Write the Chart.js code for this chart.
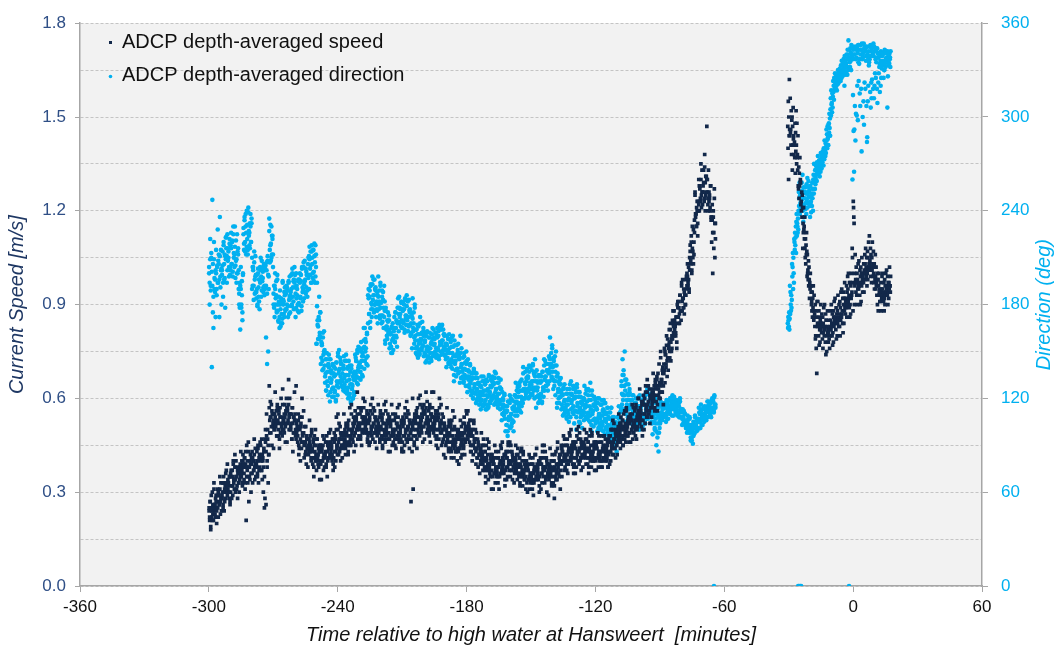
<!DOCTYPE html>
<html><head><meta charset="utf-8">
<script src="https://cdn.jsdelivr.net/npm/chart.js@4.4.0/dist/chart.umd.min.js"></script>
<style>html,body{margin:0;padding:0;background:#fff;}</style>
</head><body>
<canvas id="c" width="1059" height="648"></canvas>
<script>
// ---- Data (time in minutes relative to HW Hansweert) ----
// Each row: [bin start time, samples...]; samples are placed across the bin.
const binWidthA = 2;   // minutes, first survey segment
const binWidthB = 1;   // minutes, second survey segment

const speedRowsA = [
[-300,.24,.21,.27,.18,.25,.22,.30,.23],[-298,.26,.22,.29,.20,.27,.24,.33,.25],[-296,.28,.24,.31,.22,.29,.26,.35,.27],
[-294,.30,.26,.33,.24,.31,.28,.36,.29],[-292,.32,.28,.35,.26,.33,.30,.39,.31],[-290,.34,.30,.37,.28,.35,.32,.40,.33],
[-288,.35,.31,.38,.28,.36,.33,.42,.34],[-286,.37,.33,.40,.30,.38,.35,.43,.36],[-284,.38,.34,.41,.31,.39,.21,.45,.37],
[-282,.38,.34,.42,.30,.39,.35,.46,.27],[-280,.39,.35,.43,.33,.40,.37,.47,.38],[-278,.40,.36,.44,.33,.41,.38,.46,.39],
[-276,.40,.30,.44,.25,.42,.37,.47,.34],[-274,.42,.28,.50,.26,.55,.38,.47,.33],[-272,.54,.49,.58,.45,.55,.51,.64,.53],
[-270,.53,.48,.57,.44,.55,.50,.62,.52],[-268,.52,.48,.56,.44,.54,.49,.60,.51],[-266,.53,.49,.58,.46,.55,.50,.63,.52],
[-264,.55,.50,.60,.46,.57,.52,.66,.54],[-262,.52,.47,.57,.43,.54,.49,.62,.51],[-260,.50,.46,.55,.42,.53,.48,.64,.49],
[-258,.49,.44,.54,.40,.51,.46,.60,.48],[-256,.46,.42,.51,.39,.48,.44,.56,.45],[-254,.45,.41,.49,.38,.47,.43,.53,.44],
[-252,.43,.39,.47,.35,.45,.41,.50,.42],[-250,.42,.38,.45,.34,.43,.40,.47,.41],[-248,.42,.38,.45,.34,.44,.40,.48,.41],
[-246,.43,.39,.46,.35,.45,.41,.49,.42],[-244,.44,.40,.47,.37,.46,.42,.50,.43],[-242,.45,.41,.49,.38,.47,.43,.54,.44],
[-240,.47,.43,.51,.40,.49,.45,.55,.46],[-238,.47,.44,.51,.41,.49,.45,.55,.46],[-236,.48,.45,.52,.42,.50,.46,.57,.47],
[-234,.50,.46,.54,.43,.52,.48,.58,.49],[-232,.52,.48,.56,.45,.54,.50,.62,.51],[-230,.52,.48,.56,.45,.54,.50,.60,.51],
[-228,.52,.49,.56,.46,.54,.50,.59,.51],[-226,.51,.48,.55,.45,.53,.49,.58,.50],[-224,.52,.49,.56,.46,.54,.50,.60,.51],
[-222,.51,.47,.55,.44,.53,.49,.58,.50],[-220,.50,.47,.54,.44,.52,.48,.58,.49],[-218,.51,.47,.55,.43,.53,.49,.59,.50],
[-216,.50,.46,.54,.43,.52,.48,.58,.49],[-214,.50,.47,.54,.44,.52,.48,.57,.49],[-212,.49,.46,.53,.43,.51,.47,.58,.48],
[-210,.50,.46,.54,.43,.52,.48,.57,.49],[-208,.51,.47,.55,.44,.53,.49,.59,.50],[-206,.50,.46,.54,.27,.52,.43,.60,.31],
[-204,.52,.48,.56,.44,.54,.50,.60,.51],[-202,.53,.49,.57,.46,.55,.51,.61,.52],[-200,.54,.50,.58,.47,.56,.52,.62,.53],
[-198,.53,.49,.57,.46,.55,.51,.62,.52],[-196,.52,.48,.56,.45,.54,.50,.62,.51],[-194,.52,.48,.56,.44,.54,.50,.60,.51],
[-192,.50,.46,.54,.42,.52,.48,.58,.49],[-190,.48,.44,.52,.41,.50,.46,.57,.47],[-188,.48,.44,.52,.41,.50,.46,.56,.47],
[-186,.46,.43,.50,.40,.48,.44,.54,.45],[-184,.46,.42,.50,.39,.48,.44,.53,.45],[-182,.49,.45,.52,.42,.50,.47,.56,.48],
[-180,.50,.46,.53,.43,.51,.48,.56,.49],[-178,.47,.43,.50,.40,.48,.45,.53,.46],[-176,.44,.41,.47,.38,.45,.42,.50,.43],
[-174,.42,.39,.45,.36,.43,.40,.49,.41],[-172,.40,.37,.43,.33,.41,.38,.47,.39],[-170,.39,.35,.42,.31,.40,.37,.46,.38],
[-168,.38,.35,.41,.31,.39,.36,.45,.37],[-166,.38,.35,.41,.31,.39,.36,.45,.37],[-164,.39,.36,.42,.32,.40,.37,.46,.38],
[-162,.40,.37,.43,.34,.41,.38,.46,.39],[-160,.40,.37,.43,.34,.41,.38,.46,.39],[-158,.39,.36,.42,.33,.40,.37,.45,.38],
[-156,.38,.35,.41,.32,.39,.36,.44,.37],[-154,.37,.34,.40,.31,.38,.35,.43,.36],[-152,.36,.33,.39,.30,.37,.34,.42,.35],
[-150,.36,.33,.39,.29,.37,.34,.42,.35],[-148,.37,.34,.40,.30,.38,.35,.44,.36],[-146,.38,.35,.41,.31,.39,.36,.45,.37],
[-144,.38,.34,.41,.30,.39,.36,.45,.37],[-142,.37,.33,.40,.29,.38,.35,.44,.36],[-140,.37,.33,.40,.28,.38,.35,.43,.36],
[-138,.39,.35,.42,.31,.40,.37,.46,.38],[-136,.42,.38,.45,.35,.43,.40,.48,.41],[-134,.42,.39,.45,.36,.43,.40,.49,.41],
[-132,.43,.39,.46,.36,.44,.41,.50,.42],[-130,.43,.39,.46,.36,.44,.41,.50,.42],[-128,.44,.40,.47,.37,.45,.42,.51,.43],
[-126,.44,.41,.47,.38,.45,.42,.50,.43],[-124,.43,.39,.46,.36,.44,.41,.50,.42],[-122,.43,.40,.46,.37,.44,.41,.49,.42],
[-120,.43,.40,.46,.37,.44,.41,.49,.42],[-118,.43,.40,.46,.38,.44,.41,.48,.42],[-116,.43,.40,.45,.38,.44,.41,.47,.42],
[-114,.45,.42,.48,.39,.46,.43,.50,.44],[-112,.47,.44,.50,.41,.48,.45,.53,.46],[-110,.49,.46,.52,.42,.50,.47,.55,.48],
[-108,.50,.47,.53,.45,.51,.48,.56,.49],[-106,.51,.48,.54,.46,.52,.49,.57,.50],[-104,.52,.49,.55,.46,.53,.50,.58,.51],
[-102,.53,.50,.57,.47,.54,.51,.60,.52],[-100,.55,.51,.59,.48,.56,.53,.63,.54],[-98,.57,.53,.61,.50,.58,.55,.64,.56],
[-96,.59,.55,.63,.52,.60,.57,.66,.58],[-94,.61,.57,.65,.54,.62,.59,.68,.60],[-92,.63,.59,.67,.56,.64,.61,.71,.62],
[-90,.66,.62,.70,.58,.68,.64,.75,.65],[-88,.73,.69,.76,.65,.74,.71,.80,.72],[-86,.78,.75,.82,.72,.79,.76,.85,.77],
[-84,.83,.80,.86,.76,.84,.81,.88,.82],[-82,.88,.86,.91,.84,.89,.87,.93,.88],[-80,.92,.89,.95,.87,.93,.90,.97,.91],
[-78,.98,.95,1.01,.93,.99,.96,1.03,.97],[-76,1.07,1.03,1.10,1.00,1.08,1.05,1.14,1.06],[-74,1.19,1.15,1.23,1.12,1.20,1.17,1.26,1.18],
[-72,1.26,1.22,1.30,1.20,1.28,1.24,1.35,1.25],[-70,1.29,1.24,1.34,1.20,1.31,1.26,1.47,1.28],[-68,1.24,1.20,1.28,1.17,1.26,1.22,1.33,1.23],
[-66,1.16,1.10,1.22,1.00,1.18,1.13,1.27,1.05]
];

// second pass of readings over the same bins (the dense core of the speed band)
const speedRowsA2 = [
[-300,.25,.22,.27,.19,.29,.24,.21,.26],[-298,.27,.24,.29,.21,.31,.26,.23,.28],[-296,.29,.26,.31,.23,.33,.28,.25,.30],
[-294,.31,.28,.33,.25,.35,.30,.27,.32],[-292,.33,.30,.35,.27,.37,.32,.29,.34],[-290,.35,.32,.37,.29,.39,.34,.31,.36],
[-288,.36,.33,.38,.30,.40,.35,.32,.37],[-286,.38,.35,.40,.32,.42,.37,.34,.39],[-284,.39,.36,.41,.33,.43,.38,.35,.40],
[-282,.39,.36,.41,.33,.43,.38,.35,.40],[-280,.40,.37,.42,.34,.44,.39,.36,.41],[-278,.41,.38,.43,.35,.45,.40,.37,.42],
[-276,.41,.38,.43,.35,.45,.40,.37,.42],[-274,.46,.43,.48,.40,.50,.45,.42,.47],[-272,.55,.52,.57,.49,.59,.54,.51,.56],
[-270,.54,.51,.56,.48,.58,.53,.50,.55],[-268,.53,.50,.55,.47,.57,.52,.49,.54],[-266,.54,.51,.56,.48,.58,.53,.50,.55],
[-264,.56,.53,.58,.50,.60,.55,.52,.57],[-262,.53,.50,.55,.47,.57,.52,.49,.54],[-260,.51,.48,.53,.45,.55,.50,.47,.52],
[-258,.50,.47,.52,.44,.54,.49,.46,.51],[-256,.47,.44,.49,.41,.51,.46,.43,.48],[-254,.46,.43,.48,.40,.50,.45,.42,.47],
[-252,.44,.41,.46,.38,.48,.43,.40,.45],[-250,.43,.40,.45,.37,.47,.42,.39,.44],[-248,.43,.40,.45,.37,.47,.42,.39,.44],
[-246,.44,.41,.46,.38,.48,.43,.40,.45],[-244,.45,.42,.47,.39,.49,.44,.41,.46],[-242,.46,.43,.48,.40,.50,.45,.42,.47],
[-240,.48,.45,.50,.42,.52,.47,.44,.49],[-238,.48,.45,.50,.42,.52,.47,.44,.49],[-236,.49,.46,.51,.43,.53,.48,.45,.50],
[-234,.51,.48,.53,.45,.55,.50,.47,.52],[-232,.53,.50,.55,.47,.57,.52,.49,.54],[-230,.53,.50,.55,.47,.57,.52,.49,.54],
[-228,.53,.50,.55,.47,.57,.52,.49,.54],[-226,.52,.49,.54,.46,.56,.51,.48,.53],[-224,.53,.50,.55,.47,.57,.52,.49,.54],
[-222,.52,.49,.54,.46,.56,.51,.48,.53],[-220,.51,.48,.53,.45,.55,.50,.47,.52],[-218,.52,.49,.54,.46,.56,.51,.48,.53],
[-216,.51,.48,.53,.45,.55,.50,.47,.52],[-214,.51,.48,.53,.45,.55,.50,.47,.52],[-212,.50,.47,.52,.44,.54,.49,.46,.51],
[-210,.51,.48,.53,.45,.55,.50,.47,.52],[-208,.52,.49,.54,.46,.56,.51,.48,.53],[-206,.51,.48,.53,.45,.55,.50,.47,.52],
[-204,.53,.50,.55,.47,.57,.52,.49,.54],[-202,.54,.51,.56,.48,.58,.53,.50,.55],[-200,.55,.52,.57,.49,.59,.54,.51,.56],
[-198,.54,.51,.56,.48,.58,.53,.50,.55],[-196,.53,.50,.55,.47,.57,.52,.49,.54],[-194,.53,.50,.55,.47,.57,.52,.49,.54],
[-192,.51,.48,.53,.45,.55,.50,.47,.52],[-190,.49,.46,.51,.43,.53,.48,.45,.50],[-188,.49,.46,.51,.43,.53,.48,.45,.50],
[-186,.47,.44,.49,.41,.51,.46,.43,.48],[-184,.47,.44,.49,.41,.51,.46,.43,.48],[-182,.50,.47,.52,.44,.54,.49,.46,.51],
[-180,.51,.48,.53,.45,.55,.50,.47,.52],[-178,.48,.45,.50,.42,.52,.47,.44,.49],[-176,.45,.42,.47,.39,.49,.44,.41,.46],
[-174,.43,.40,.45,.37,.47,.42,.39,.44],[-172,.41,.38,.43,.35,.45,.40,.37,.42],[-170,.40,.37,.42,.34,.44,.39,.36,.41],
[-168,.39,.36,.41,.33,.43,.38,.35,.40],[-166,.39,.36,.41,.33,.43,.38,.35,.40],[-164,.40,.37,.42,.34,.44,.39,.36,.41],
[-162,.41,.38,.43,.35,.45,.40,.37,.42],[-160,.41,.38,.43,.35,.45,.40,.37,.42],[-158,.40,.37,.42,.34,.44,.39,.36,.41],
[-156,.39,.36,.41,.33,.43,.38,.35,.40],[-154,.38,.35,.40,.32,.42,.37,.34,.39],[-152,.37,.34,.39,.31,.41,.36,.33,.38],
[-150,.37,.34,.39,.31,.41,.36,.33,.38],[-148,.38,.35,.40,.32,.42,.37,.34,.39],[-146,.39,.36,.41,.33,.43,.38,.35,.40],
[-144,.39,.36,.41,.33,.43,.38,.35,.40],[-142,.38,.35,.40,.32,.42,.37,.34,.39],[-140,.38,.35,.40,.32,.42,.37,.34,.39],
[-138,.40,.37,.42,.34,.44,.39,.36,.41],[-136,.43,.40,.45,.37,.47,.42,.39,.44],[-134,.43,.40,.45,.37,.47,.42,.39,.44],
[-132,.44,.41,.46,.38,.48,.43,.40,.45],[-130,.44,.41,.46,.38,.48,.43,.40,.45],[-128,.45,.42,.47,.39,.49,.44,.41,.46],
[-126,.45,.42,.47,.39,.49,.44,.41,.46],[-124,.44,.41,.46,.38,.48,.43,.40,.45],[-122,.44,.41,.46,.38,.48,.43,.40,.45],
[-120,.44,.41,.46,.38,.48,.43,.40,.45],[-118,.44,.41,.46,.38,.48,.43,.40,.45],[-116,.44,.41,.46,.38,.48,.43,.40,.45],
[-114,.46,.43,.48,.40,.50,.45,.42,.47],[-112,.48,.45,.50,.42,.52,.47,.44,.49],[-110,.50,.47,.52,.44,.54,.49,.46,.51],
[-108,.51,.48,.53,.45,.55,.50,.47,.52],[-106,.52,.49,.54,.46,.56,.51,.48,.53],[-104,.53,.50,.55,.47,.57,.52,.49,.54],
[-102,.54,.51,.56,.48,.58,.53,.50,.55],[-100,.56,.53,.58,.50,.60,.55,.52,.57],[-98,.58,.55,.60,.52,.62,.57,.54,.59],
[-96,.60,.57,.62,.54,.64,.59,.56,.61],[-94,.62,.59,.64,.56,.66,.61,.58,.63],[-92,.64,.61,.66,.58,.68,.63,.60,.65],
[-90,.68,.64,.71,.60,.73,.66,.62,.69],[-88,.74,.70,.77,.67,.79,.73,.69,.75],[-86,.79,.76,.82,.73,.84,.78,.75,.80],
[-84,.84,.81,.86,.78,.88,.83,.80,.85],[-82,.89,.86,.91,.84,.93,.88,.85,.90],[-80,.93,.90,.96,.88,.98,.92,.89,.94],
[-78,.99,.96,1.02,.94,1.05,.98,.95,1.00],[-76,1.09,1.04,1.12,1.01,1.15,1.07,1.03,1.10],[-74,1.20,1.16,1.23,1.13,1.25,1.19,1.15,1.21],
[-72,1.27,1.23,1.30,1.21,1.33,1.26,1.22,1.28],[-70,1.30,1.26,1.33,1.23,1.38,1.29,1.25,1.31],[-68,1.25,1.21,1.28,1.18,1.30,1.24,1.20,1.26],
[-66,1.17,1.13,1.20,1.08,1.24,1.16,1.11,1.18]
];

const speedRowsB = [
[-30.5,1.47,1.40,1.55,1.30,1.50,1.44,1.62,1.46],[-29.5,1.46,1.41,1.52,1.38,1.49,1.44,1.56,1.45],[-28.5,1.44,1.38,1.50,1.33,1.47,1.41,1.53,1.43],
[-27.5,1.42,1.37,1.48,1.32,1.45,1.39,1.52,1.41],[-26.5,1.38,1.33,1.44,1.28,1.41,1.35,1.48,1.37],[-25.5,1.30,1.27,1.34,1.24,1.32,1.28,1.37,1.29],
[-24.5,1.23,1.20,1.26,1.18,1.25,1.21,1.29,1.22],[-23.5,1.15,1.11,1.18,1.08,1.16,1.13,1.21,1.14],[-22.5,1.08,1.05,1.11,1.03,1.09,1.06,1.13,1.07],
[-21.5,1.01,.98,1.04,.96,1.02,.99,1.06,1.00],[-20.5,.96,.94,.98,.92,.97,.95,1.00,.96],[-19.5,.91,.88,.94,.86,.92,.89,.96,.90],
[-18.5,.87,.83,.90,.79,.88,.85,.93,.86],[-17.5,.84,.80,.88,.76,.86,.68,.91,.83],[-16.5,.84,.80,.88,.77,.86,.82,.91,.83],
[-15.5,.84,.81,.87,.78,.85,.82,.90,.83],[-14.5,.83,.79,.86,.76,.84,.81,.89,.82],[-13.5,.83,.78,.87,.74,.85,.80,.90,.82],
[-12.5,.82,.78,.85,.75,.83,.80,.88,.81],[-11.5,.82,.79,.85,.76,.83,.80,.88,.81],[-10.5,.84,.80,.87,.77,.85,.82,.90,.83],
[-9.5,.85,.81,.88,.78,.86,.83,.91,.84],[-8.5,.86,.82,.89,.79,.87,.84,.92,.85],[-7.5,.86,.83,.90,.80,.88,.84,.93,.85],
[-6.5,.87,.83,.91,.80,.89,.85,.94,.86],[-5.5,.88,.84,.92,.81,.90,.86,.95,.87],[-4.5,.90,.87,.94,.84,.92,.88,.97,.89],
[-3.5,.92,.89,.96,.86,.94,.90,.99,.91],[-2.5,.93,.89,.97,.86,.95,.91,1.00,.92],[-1.5,.94,.90,.97,.87,.96,.92,1.00,.93],
[-0.5,.97,.88,1.23,1.21,1.18,1.16,1.08,1.05],[0.5,.98,.94,1.02,.90,1.00,.96,1.06,.97],[1.5,.97,.93,1.00,.90,.98,.95,1.03,.96],
[2.5,.97,.93,1.01,.90,.99,.95,1.04,.96],[3.5,.98,.94,1.02,.91,1.00,.96,1.05,.97],[4.5,1.00,.97,1.03,.94,1.01,.98,1.06,.99],
[5.5,1.02,.99,1.05,.96,1.03,1.00,1.08,1.01],[6.5,1.03,1.00,1.07,.98,1.05,1.01,1.10,1.02],[7.5,1.04,1.01,1.08,.99,1.06,1.02,1.12,1.03],
[8.5,1.03,.99,1.07,.97,1.05,1.01,1.10,1.02],[9.5,1.00,.97,1.03,.95,1.02,.98,1.06,.99],[10.5,.97,.93,1.00,.90,.98,.95,1.02,.96],
[11.5,.95,.91,.98,.88,.96,.93,1.00,.94],[12.5,.94,.91,.97,.88,.95,.92,.99,.93],[13.5,.94,.91,.97,.88,.95,.92,1.00,.93],
[14.5,.95,.92,.98,.90,.96,.93,1.00,.94],[15.5,.96,.93,.99,.90,.97,.94,1.01,.95],[16.5,.96,.94,.99,.92,.97,.95,1.02,.96]
];

const dirRowsA = [
[-300,200,180,222,192,210,140,247,175],[-298,196,172,215,186,204,165,220,190],[-296,202,180,228,194,212,172,236,198],
[-294,205,185,220,196,212,178,223,202],[-292,210,198,222,204,216,194,225,208],[-290,212,202,226,206,220,198,230,210],
[-288,208,194,225,200,216,190,230,205],[-286,186,170,200,180,194,164,204,178],[-284,225,215,236,220,230,212,240,222],
[-282,226,216,238,220,232,212,242,224],[-280,198,188,210,192,204,183,214,196],[-278,190,180,200,185,196,177,204,188],
[-276,197,188,205,192,202,185,208,195],[-274,198,190,205,159,202,142,208,150],[-272,218,208,230,212,224,204,235,215],
[-270,186,176,196,180,192,172,200,184],[-268,176,169,182,172,180,166,184,174],[-266,182,172,191,177,187,168,194,180],
[-264,185,175,192,180,189,172,195,183],[-262,190,180,200,185,195,177,204,188],[-260,186,176,196,181,191,172,200,184],
[-258,190,180,200,185,195,176,204,188],[-256,195,188,203,191,199,185,207,193],[-254,205,194,214,199,210,190,217,203],
[-252,206,197,215,201,211,194,218,204],[-250,166,158,185,162,175,155,194,170],[-248,150,141,159,146,155,138,162,148],
[-246,136,125,145,131,141,122,148,134],[-244,132,121,142,127,137,118,145,130],[-242,130,121,140,125,135,118,143,128],
[-240,138,131,146,134,142,128,149,136],[-238,135,127,144,131,139,125,147,133],[-236,131,123,139,127,135,121,141,129],
[-234,128,120,136,124,132,118,139,126],[-232,140,133,148,136,144,130,151,138],[-230,143,137,150,140,147,134,152,142],
[-228,152,142,162,147,157,139,165,150],[-226,180,168,190,174,185,165,192,177],[-224,186,175,196,180,191,172,198,183],
[-222,182,171,194,177,188,168,198,180],[-220,178,168,189,173,183,165,192,176],[-218,166,158,175,162,170,155,178,164],
[-216,158,151,164,155,161,149,166,157],[-214,165,156,175,160,170,153,178,163],[-212,174,166,182,170,178,163,185,172],
[-210,173,165,181,169,177,162,184,171],[-208,172,163,183,167,177,160,186,170],[-206,168,155,180,161,174,152,184,165],
[-204,157,149,164,153,161,146,166,155],[-202,158,151,169,154,163,148,172,156],[-200,153,146,160,149,157,143,162,151],
[-198,152,146,159,149,155,144,161,150],[-196,155,149,162,152,158,147,164,154],[-194,156,148,165,152,160,145,167,154],
[-192,157,150,164,153,161,148,166,155],[-190,151,143,158,147,155,140,160,149],[-188,149,142,157,145,153,139,160,147],
[-186,144,134,154,139,149,131,157,142],[-184,142,133,155,137,147,130,160,140],[-182,139,131,147,135,143,128,150,137],
[-180,134,127,142,130,138,124,145,132],[-178,129,122,136,125,133,120,138,127],[-176,126,119,133,122,130,116,136,124],
[-174,124,116,131,120,128,113,134,122],[-172,122,116,129,119,125,113,131,121],[-170,124,117,132,120,128,114,135,122],
[-168,126,119,134,122,130,116,137,124],[-166,123,116,130,119,127,113,132,121],[-164,116,109,122,112,119,106,124,114],
[-162,108,99,115,103,112,96,118,106],[-160,110,102,119,106,114,99,122,108],[-158,118,112,127,115,122,109,130,117],
[-156,121,114,130,117,125,111,132,119],[-154,126,120,137,123,131,117,140,125],[-152,130,123,139,126,134,120,141,128],
[-150,131,123,142,127,136,120,145,129],[-148,127,117,135,122,131,114,138,125],[-146,127,120,135,123,131,117,137,125],
[-144,134,128,142,131,138,125,145,132],[-142,142,134,154,138,147,131,159,140],[-140,137,126,146,131,141,122,150,134],
[-138,126,117,132,121,129,114,134,124],[-136,119,112,125,116,122,109,127,118],[-134,116,108,123,112,119,105,126,114],
[-132,119,111,128,115,123,108,131,117],[-130,117,104,126,112,121,100,129,115],[-128,114,104,121,110,117,101,124,112],
[-126,116,108,125,112,120,106,128,114],[-124,115,108,126,111,119,105,130,113],[-122,112,102,121,107,116,99,125,110],
[-120,110,102,117,106,113,99,120,108],[-118,109,102,116,105,112,99,119,107],[-116,107,100,114,103,110,97,117,105],
[-114,104,96,111,100,107,93,114,102],[-112,98,89,105,94,101,86,108,96],[-110,104,96,112,100,108,93,115,102],
[-108,128,116,145,122,135,113,150,125],[-106,119,108,129,113,124,105,132,116],[-104,112,106,119,109,115,104,122,111],
[-102,110,103,117,106,113,101,120,108],[-100,111,103,119,107,115,100,122,109],[-98,113,106,120,110,116,104,122,112],
[-96,116,110,123,113,119,108,126,115],[-94,110,100,118,105,114,97,122,108],[-92,104,90,113,98,109,86,116,101],
[-90,111,106,116,108,114,104,118,110],[-88,112,107,117,109,115,105,119,111],[-86,115,111,120,113,117,109,122,114],
[-84,115,111,119,113,117,109,121,114],[-82,113,109,118,111,115,108,120,112],[-80,108,104,112,106,110,103,113,107],
[-78,103,99,107,101,105,98,109,102],[-76,98,93,103,95,100,91,105,97],[-74,103,99,107,101,105,98,109,102],
[-72,108,103,114,105,111,101,116,107],[-70,110,107,113,108,112,106,114,109],[-68,113,109,117,111,115,108,118,112],
[-66,116,113,120,114,118,112,122,115]
];

// second pass of readings over the same bins (the dense core of the direction band)
const dirRowsA2 = [
[-300,204,194,209,189,213,201,192,206],[-298,200,190,205,185,209,197,188,202],[-296,206,196,211,191,215,203,194,208],
[-294,209,199,214,194,218,206,197,211],[-292,214,204,219,199,223,211,202,216],[-290,216,206,221,201,225,213,204,218],
[-288,212,202,217,197,221,209,200,214],[-286,190,180,195,175,199,187,178,192],[-284,229,219,234,214,238,226,217,231],
[-282,230,220,235,215,239,227,218,232],[-280,202,192,207,187,211,199,190,204],[-278,194,184,199,179,203,191,182,196],
[-276,201,191,206,186,210,198,189,203],[-274,202,192,207,187,211,199,190,204],[-272,222,212,227,207,231,219,210,224],
[-270,190,180,195,175,199,187,178,192],[-268,180,170,185,165,189,177,168,182],[-266,186,176,191,171,195,183,174,188],
[-264,189,179,194,174,198,186,177,191],[-262,194,184,199,179,203,191,182,196],[-260,190,180,195,175,199,187,178,192],
[-258,194,184,199,179,203,191,182,196],[-256,199,189,204,184,208,196,187,201],[-254,209,199,214,194,218,206,197,211],
[-252,210,200,215,195,219,207,198,212],[-250,170,160,175,155,179,167,158,172],[-248,154,144,159,139,163,151,142,156],
[-246,140,130,145,125,149,137,128,142],[-244,136,126,141,121,145,133,124,138],[-242,134,124,139,119,143,131,122,136],
[-240,142,132,147,127,151,139,130,144],[-238,139,129,144,124,148,136,127,141],[-236,135,125,140,120,144,132,123,137],
[-234,132,122,137,117,141,129,120,134],[-232,144,134,149,129,153,141,132,146],[-230,147,137,152,132,156,144,135,149],
[-228,156,146,161,141,165,153,144,158],[-226,184,174,189,169,193,181,172,186],[-224,189,181,193,177,196,186,180,190],
[-222,185,177,189,173,192,182,176,186],[-220,181,173,185,169,188,178,172,182],[-218,169,161,173,157,176,166,160,170],
[-216,161,153,165,149,168,158,152,162],[-214,168,160,172,156,175,165,159,169],[-212,177,169,181,165,184,174,168,178],
[-210,176,168,180,164,183,173,167,177],[-208,175,167,179,163,182,172,166,176],[-206,171,163,175,159,178,168,162,172],
[-204,160,152,164,148,167,157,151,161],[-202,161,153,165,149,168,158,152,162],[-200,156,148,160,144,163,153,147,157],
[-198,155,147,159,143,162,152,146,156],[-196,158,150,162,146,165,155,149,159],[-194,159,151,163,147,166,156,150,160],
[-192,160,152,164,148,167,157,151,161],[-190,154,146,158,142,161,151,145,155],[-188,152,144,156,140,159,149,143,153],
[-186,147,139,151,135,154,144,138,148],[-184,145,137,149,133,152,142,136,146],[-182,142,134,146,130,149,139,133,143],
[-180,137,129,141,125,144,134,128,138],[-178,132,124,136,120,139,129,123,133],[-176,129,121,133,117,136,126,120,130],
[-174,127,119,131,115,134,124,118,128],[-172,125,117,129,113,132,122,116,126],[-170,127,119,131,115,134,124,118,128],
[-168,129,121,133,117,136,126,120,130],[-166,126,118,130,114,133,123,117,127],[-164,119,111,123,107,126,116,110,120],
[-162,111,103,115,99,118,108,102,112],[-160,113,105,117,101,120,110,104,114],[-158,121,113,125,109,128,118,112,122],
[-156,124,116,128,112,131,121,115,125],[-154,129,121,133,117,136,126,120,130],[-152,133,125,137,121,140,130,124,134],
[-150,134,126,138,122,141,131,125,135],[-148,130,122,134,118,137,127,121,131],[-146,130,122,134,118,137,127,121,131],
[-144,137,129,141,125,144,134,128,138],[-142,145,137,149,133,152,142,136,146],[-140,140,132,144,128,147,137,131,141],
[-138,129,121,133,117,136,126,120,130],[-136,122,114,126,110,129,119,113,123],[-134,119,111,123,107,126,116,110,120],
[-132,122,114,126,110,129,119,113,123],[-130,120,112,124,108,127,117,111,121],[-128,117,109,121,105,124,114,108,118],
[-126,119,111,123,107,126,116,110,120],[-124,118,110,122,106,125,115,109,119],[-122,115,107,119,103,122,112,106,116],
[-120,113,105,117,101,120,110,104,114],[-118,112,104,116,100,119,109,103,113],[-116,110,102,114,98,117,107,101,111],
[-114,107,99,111,95,114,104,98,108],[-112,101,93,105,89,108,98,92,102],[-110,107,99,111,95,114,104,98,108],
[-108,131,123,135,119,138,128,122,132],[-106,122,114,126,110,129,119,113,123],[-104,115,107,119,103,122,112,106,116],
[-102,113,105,117,101,120,110,104,114],[-100,114,106,118,102,121,111,105,115],[-98,116,108,120,104,123,113,107,117],
[-96,119,111,123,107,126,116,110,120],[-94,113,105,117,101,120,110,104,114],[-92,107,99,111,95,114,104,98,108],
[-90,113,108,115,106,116,111,109,114],[-88,114,109,116,107,117,112,110,115],[-86,117,112,119,110,120,115,113,118],
[-84,117,112,119,110,120,115,113,118],[-82,115,110,117,108,118,113,111,116],[-80,110,105,112,103,113,108,106,111],
[-78,105,100,107,98,108,103,101,106],[-76,100,95,102,93,103,98,96,101],[-74,105,100,107,98,108,103,101,106],
[-72,110,105,112,103,113,108,106,111],[-70,112,107,114,105,115,110,108,113],[-68,115,110,117,108,118,113,111,116],
[-66,118,113,120,111,121,116,114,119]
];

const dirRowsB = [
[-30.5,168,165,172,170,166,175,164,171],[-29.5,180,176,186,178,183,192,174,188],[-28.5,200,194,206,198,204,213,190,210],
[-27.5,220,215,226,218,223,230,213,222],[-26.5,230,226,235,228,233,238,224,232],[-25.5,245,240,252,243,248,258,238,250],
[-24.5,250,244,258,247,253,263,241,249],[-23.5,244,236,252,240,248,233,255,242],[-22.5,248,241,255,245,251,238,257,247],
[-21.5,252,245,259,249,255,242,261,251],[-20.5,246,239,253,243,249,236,256,245],[-19.5,251,243,258,248,254,240,260,250],
[-18.5,260,254,266,257,263,251,270,259],[-17.5,265,261,269,263,267,259,271,264],[-16.5,268,264,272,266,270,262,275,267],
[-15.5,271,267,275,269,273,265,277,270],[-14.5,274,271,278,273,276,269,280,275],[-13.5,279,275,283,277,281,273,285,278],
[-12.5,287,282,292,285,289,280,294,286],[-11.5,296,290,302,293,299,288,305,295],[-10.5,309,303,315,306,312,301,317,308],
[-9.5,318,313,323,316,320,311,325,317],[-8.5,322,318,326,320,324,317,328,321],[-7.5,325,322,329,324,327,321,330,325],
[-6.5,327,324,331,326,329,323,333,328],[-5.5,330,326,334,328,332,325,336,329],[-4.5,332,327,337,330,335,320,339,333],
[-3.5,334,329,340,332,337,327,343,335],[-2.5,337,332,343,335,340,330,349,338],[-1.5,338,332,344,336,341,330,346,339],
[-0.5,337,314,343,291,340,265,345,260],[0.5,337,302,343,292,340,307,345,285],[1.5,338,301,344,320,341,298,346,335],
[2.5,337,315,343,307,340,323,346,334],[3.5,340,300,346,318,343,278,347,337],[4.5,341,310,347,295,344,322,345,338],
[5.5,339,307,345,284,342,318,344,336],[6.5,335,287,340,310,338,320,342,333],[7.5,339,316,346,306,342,322,345,337],
[8.5,341,318,347,312,344,324,346,339],[9.5,339,312,345,320,342,328,344,337],[10.5,338,318,344,309,341,325,343,335],
[11.5,334,316,341,322,338,328,340,332],[12.5,336,320,342,325,339,331,341,334],[13.5,336,325,341,330,339,333,340,335],
[14.5,338,330,343,334,341,332,342,337],[15.5,337,306,342,326,340,333,341,336],[16.5,338,332,342,335,340,334,341,337]
];

// isolated zero-direction readings on the time axis
const dirZeroTimes = [-64.8, -25.6, -25.2, -24.6, -24.2, -1.9];
const dirZeroValues = [0, 0, 0, 0, 0, 0];

const xTickValues = [-360, -300, -240, -180, -120, -60, 0, 60];
const speedTickLabels = ['0.0', '0.3', '0.6', '0.9', '1.2', '1.5', '1.8'];
const dirTickLabels = ['0', '60', '120', '180', '240', '300', '360'];

const seriesNames = ['ADCP depth-averaged speed', 'ADCP depth-averaged direction'];

// ---- build point lists: samples of a row fill its time bin (slot order varies per row) ----
function expand(rows, width, shift) {
  const pts = [];
  rows.forEach((r, ri) => {
    const n = r.length - 1;
    for (let k = 1; k <= n; k++) {
      const slot = (k - 1 + ri * shift) % n;
      pts.push({x: r[0] + (slot + 0.5) * width / n, y: r[k]});
    }
  });
  return pts;
}
const speedPts = expand(speedRowsA, binWidthA, 3)
  .concat(expand(speedRowsA2, binWidthA, 5))
  .concat(expand(speedRowsB, binWidthB, 3));
const dirPts = expand(dirRowsA, binWidthA, 3)
  .concat(expand(dirRowsA2, binWidthA, 5))
  .concat(expand(dirRowsB, binWidthB, 3))
  .concat(dirZeroTimes.map((t, i) => ({x: t, y: dirZeroValues[i]})));

const NAVY = '#12284a';
const CYAN = '#00b0f0';
const FONT = "'Liberation Sans', Arial, sans-serif";

const bgPlugin = {
  id: 'bg',
  beforeDraw(chart) {
    const {ctx, chartArea: a} = chart;
    ctx.save();
    ctx.fillStyle = '#f2f2f2';
    ctx.fillRect(a.left, a.top, a.right - a.left, a.bottom - a.top);
    ctx.restore();
  }
};

const decorPlugin = {
  id: 'decor',
  afterDraw(chart) {
    const {ctx, chartArea: a} = chart;
    ctx.save();
    // legend inside plot area
    ctx.font = '20px ' + FONT;
    ctx.textBaseline = 'middle';
    ctx.textAlign = 'left';
    ctx.fillStyle = NAVY;
    ctx.fillRect(a.left + 29, 41, 3, 3);
    ctx.fillStyle = '#111111';
    ctx.fillText(seriesNames[0], a.left + 42, 42);
    ctx.fillStyle = CYAN;
    ctx.beginPath(); ctx.arc(a.left + 30.5, 76.5, 1.8, 0, Math.PI * 2); ctx.fill();
    ctx.fillStyle = '#111111';
    ctx.fillText(seriesNames[1], a.left + 42, 75.5);
    // right axis title, reading bottom-to-top
    ctx.translate(1044, (a.top + a.bottom) / 2);
    ctx.rotate(-Math.PI / 2);
    ctx.textAlign = 'center';
    ctx.font = 'italic 20px ' + FONT;
    ctx.fillStyle = CYAN;
    ctx.fillText('Direction (deg)', 0, 0);
    ctx.restore();
  }
};

new Chart(document.getElementById('c'), {
  type: 'scatter',
  data: {
    datasets: [
      { label: seriesNames[0], data: speedPts, yAxisID: 'y',
        pointStyle: 'rect', pointRadius: 2.6, pointBorderWidth: 0,
        backgroundColor: NAVY, borderColor: NAVY },
      { label: seriesNames[1], data: dirPts, yAxisID: 'y2',
        pointStyle: 'circle', pointRadius: 2.3, pointBorderWidth: 0,
        backgroundColor: CYAN, borderColor: CYAN }
    ]
  },
  options: {
    responsive: false,
    animation: false,
    events: [],
    layout: { padding: { top: 17, left: 0, right: 0, bottom: 0 } },
    plugins: { legend: { display: false }, tooltip: { enabled: false } },
    scales: {
      x: {
        type: 'linear', position: 'bottom', min: xTickValues[0], max: xTickValues[xTickValues.length - 1],
        afterBuildTicks: s => { s.ticks = xTickValues.map(v => ({value: v})); },
        afterFit: s => { s.height = 62; },
        ticks: { color: '#111111', font: { family: FONT, size: 17 }, padding: 5, maxRotation: 0, autoSkip: false,
                 callback: v => String(v) },
        grid: { drawOnChartArea: false, drawTicks: true, tickLength: 6, color: '#a6a6a6' },
        border: { color: '#a6a6a6', width: 1.5 },
        title: { display: true, text: 'Time relative to high water at Hansweert  [minutes]',
                 font: { family: FONT, size: 20, style: 'italic' }, color: '#111111', padding: { top: 0, bottom: 1 } }
      },
      y: {
        position: 'left', min: 0, max: 1.8,
        afterBuildTicks: s => { s.ticks = Array.from({length: 13}, (_, i) => ({value: i * 0.15})); },
        afterFit: s => { s.width = 80; },
        ticks: { autoSkip: false, color: '#2f4f86', font: { family: FONT, size: 17 }, padding: 9,
                 callback: (v, i) => i % 2 === 0 ? speedTickLabels[i / 2] : '' },
        grid: { color: '#c4c4c4', lineWidth: 1, tickLength: 5,
                tickColor: c => (c.index % 2 === 0 ? '#a6a6a6' : 'rgba(0,0,0,0)') },
        border: { color: '#a6a6a6', width: 1.5, dash: [3, 2] },
        title: { display: true, text: 'Current Speed [m/s]',
                 font: { family: FONT, size: 20, style: 'italic' }, color: '#1f3864', padding: { top: 5, bottom: 0 } }
      },
      y2: {
        position: 'right', min: 0, max: 360,
        afterBuildTicks: s => { s.ticks = Array.from({length: 13}, (_, i) => ({value: i * 30})); },
        afterFit: s => { s.width = 77; },
        ticks: { autoSkip: false, color: CYAN, font: { family: FONT, size: 17 }, padding: 13,
                 callback: (v, i) => i % 2 === 0 ? dirTickLabels[i / 2] : '' },
        grid: { drawOnChartArea: false, tickLength: 6,
                tickColor: c => (c.index % 2 === 0 ? '#a6a6a6' : 'rgba(0,0,0,0)') },
        border: { color: '#a6a6a6', width: 1.5 },
        title: { display: false }
      }
    }
  },
  plugins: [bgPlugin, decorPlugin]
});
</script>
</body></html>
